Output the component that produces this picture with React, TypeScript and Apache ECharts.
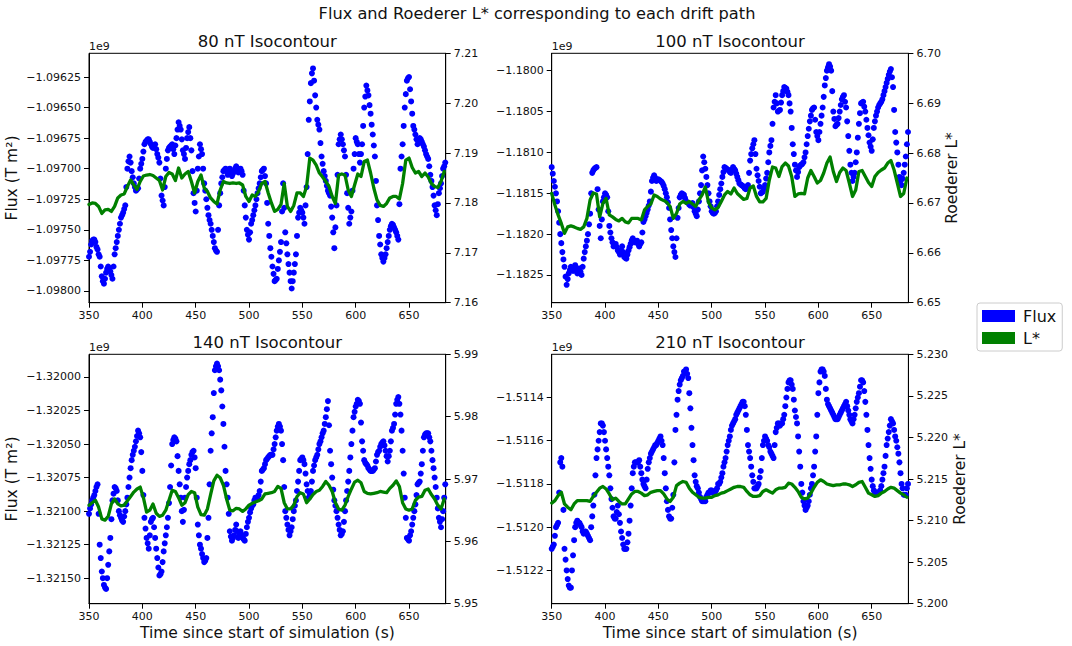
import React, { useEffect, useRef } from "react";
import * as echarts from "echarts";

// ---------------- data ----------------
// Flux sampled every 1 s from 350 s; L* every 3 s from 350 s. Flux values in units of 1e9 T m^2.
const FLUX_T0 = 350;
const FLUX_DT = 1;
const LSTAR_T0 = 350;
const LSTAR_DT = 3;

const xTicks = [350, 400, 450, 500, 550, 600, 650];
const X_MIN = 350;
const X_MAX = 684.4;

const panelTitles = ["80 nT Isocontour", "100 nT Isocontour", "140 nT Isocontour", "210 nT Isocontour"];

const flux80 = [
  -1.09772, -1.09768, -1.09762, -1.09759, -1.09758, -1.09758, -1.0976, -1.09764, -1.09766, -1.0977,
  -1.09772, -1.0978, -1.09788, -1.09792, -1.09794, -1.0979, -1.09785, -1.09782, -1.0978, -1.09782,
  -1.09784, -1.09787, -1.0979, -1.0978, -1.0977, -1.09765, -1.0976, -1.09755, -1.0975, -1.09745,
  -1.0974, -1.09738, -1.09736, -1.09733, -1.0973, -1.09715, -1.097, -1.09694, -1.0969, -1.09695,
  -1.09702, -1.09707, -1.09712, -1.09715, -1.09718, -1.09717, -1.09716, -1.09708, -1.097, -1.09696,
  -1.09692, -1.09686, -1.0968, -1.09678, -1.09677, -1.09676, -1.09676, -1.09678, -1.0968, -1.09682,
  -1.09683, -1.09681, -1.0968, -1.09684, -1.09688, -1.09691, -1.09695, -1.09708, -1.09722, -1.09726,
  -1.0973, -1.09715, -1.097, -1.09692, -1.09685, -1.09683, -1.09682, -1.09681, -1.0968, -1.09684,
  -1.09688, -1.09681, -1.09675, -1.09668, -1.09662, -1.09665, -1.09668, -1.09676, -1.09685, -1.09688,
  -1.09692, -1.09683, -1.09675, -1.0967, -1.09666, -1.09675, -1.09685, -1.09702, -1.0972, -1.09728,
  -1.09735, -1.09718, -1.097, -1.0969, -1.0968, -1.09684, -1.09688, -1.097, -1.09712, -1.09718,
  -1.09725, -1.09732, -1.09738, -1.09742, -1.09745, -1.0975, -1.09755, -1.0976, -1.09765, -1.09767,
  -1.09768, -1.0975, -1.0973, -1.0972, -1.09712, -1.09707, -1.09702, -1.09701, -1.097, -1.09702,
  -1.09705, -1.09702, -1.097, -1.09703, -1.09706, -1.09704, -1.09702, -1.097, -1.09698, -1.097,
  -1.09703, -1.09701, -1.097, -1.09702, -1.09705, -1.09718, -1.0973, -1.0974, -1.0975, -1.09754,
  -1.09758, -1.09752, -1.09745, -1.09742, -1.09738, -1.09734, -1.0973, -1.09725, -1.0972, -1.09716,
  -1.09712, -1.09707, -1.09702, -1.09701, -1.097, -1.09706, -1.09712, -1.09728, -1.09745, -1.09755,
  -1.09765, -1.09772, -1.0978, -1.09786, -1.09792, -1.09791, -1.0979, -1.09782, -1.09775, -1.09768,
  -1.0976, -1.09735, -1.09712, -1.09732, -1.09752, -1.09761, -1.0977, -1.09778, -1.09785, -1.09792,
  -1.09798, -1.09792, -1.09785, -1.09778, -1.0977, -1.09755, -1.0974, -1.09736, -1.09732, -1.09734,
  -1.09736, -1.0974, -1.09745, -1.0973, -1.09715, -1.09688, -1.0966, -1.09645, -1.0963, -1.09622,
  -1.09618, -1.09628, -1.0964, -1.0965, -1.0966, -1.09664, -1.09668, -1.09679, -1.0969, -1.09696,
  -1.09702, -1.09706, -1.0971, -1.09714, -1.09718, -1.0972, -1.09722, -1.09731, -1.0974, -1.09752,
  -1.09765, -1.09748, -1.0973, -1.09705, -1.0968, -1.09676, -1.09672, -1.09676, -1.0968, -1.09685,
  -1.0969, -1.09705, -1.0972, -1.09732, -1.09745, -1.0974, -1.09735, -1.09718, -1.097, -1.09688,
  -1.09675, -1.09678, -1.0968, -1.09688, -1.09695, -1.09688, -1.0968, -1.09665, -1.0965, -1.09641,
  -1.09632, -1.09636, -1.0964, -1.09648, -1.09655, -1.09664, -1.09672, -1.09681, -1.0969, -1.0971,
  -1.0973, -1.09742, -1.09755, -1.09762, -1.0977, -1.09773, -1.09776, -1.09773, -1.0977, -1.09765,
  -1.0976, -1.09755, -1.0975, -1.09747, -1.09745, -1.09746, -1.09748, -1.0975, -1.09752, -1.09755,
  -1.09758, -1.09729, -1.097, -1.0969, -1.0968, -1.09665, -1.0965, -1.09639, -1.09628, -1.09626,
  -1.09625, -1.09635, -1.09645, -1.09655, -1.09665, -1.09668, -1.09672, -1.09676, -1.0968, -1.09678,
  -1.09675, -1.09676, -1.09678, -1.0968, -1.09682, -1.09685, -1.09688, -1.0969, -1.09692, -1.09698,
  -1.09705, -1.0971, -1.09715, -1.09722, -1.0973, -1.09734, -1.09738, -1.09729, -1.0972, -1.09716,
  -1.09712, -1.09706, -1.097, -1.09698, -1.09695,
];
const lstar80 = [
  7.1797, 7.18, 7.1799, 7.1793, 7.1779, 7.1786, 7.1787, 7.1783, 7.1793, 7.181,
  7.1816, 7.1818, 7.1833, 7.1846, 7.1836, 7.1827, 7.1843, 7.1854, 7.1856, 7.1857,
  7.1855, 7.185, 7.1845, 7.1826, 7.1853, 7.1861, 7.1858, 7.1845, 7.187, 7.185,
  7.1858, 7.1863, 7.1843, 7.182, 7.1843, 7.1856, 7.183, 7.1823, 7.181, 7.1803,
  7.1798, 7.1826, 7.1843, 7.184, 7.1839, 7.184, 7.1839, 7.184, 7.1836, 7.1813,
  7.1803, 7.1816, 7.1813, 7.1823, 7.1839, 7.1843, 7.182, 7.18, 7.1783, 7.1787,
  7.1797, 7.1839, 7.1793, 7.1783, 7.1795, 7.182, 7.182, 7.1813, 7.1833, 7.189,
  7.1886, 7.1876, 7.186, 7.1852, 7.1843, 7.1833, 7.1813, 7.1799, 7.1856, 7.1858,
  7.1856, 7.1826, 7.1813, 7.1836, 7.1858, 7.1853, 7.1883, 7.1886, 7.186, 7.183,
  7.1806, 7.1795, 7.1793, 7.1799, 7.181, 7.1813, 7.1813, 7.1808, 7.1839, 7.1886,
  7.189, 7.1871, 7.186, 7.1863, 7.1853, 7.186, 7.1852, 7.1839, 7.1833, 7.1831,
  7.1843, 7.1863,
];

const flux100 = [
  -1.18118, -1.18126, -1.18135, -1.18142, -1.1815, -1.1816, -1.18172, -1.18186, -1.182, -1.18211,
  -1.18222, -1.18231, -1.1824, -1.18252, -1.18262, -1.18255, -1.18248, -1.18244, -1.1824, -1.18243,
  -1.18245, -1.18241, -1.18238, -1.18243, -1.18248, -1.18245, -1.18242, -1.18246, -1.1825, -1.1824,
  -1.1823, -1.18222, -1.18215, -1.18208, -1.182, -1.18188, -1.18175, -1.1815, -1.18125, -1.18122,
  -1.1812, -1.18119, -1.18118, -1.18145, -1.1817, -1.1819, -1.18205, -1.18182, -1.1816, -1.18155,
  -1.1815, -1.18152, -1.18155, -1.18172, -1.1819, -1.18198, -1.18205, -1.1821, -1.18215, -1.18213,
  -1.18212, -1.18216, -1.1822, -1.18222, -1.18225, -1.1822, -1.18215, -1.18222, -1.18228, -1.18229,
  -1.1823, -1.18225, -1.1822, -1.18216, -1.18212, -1.18208, -1.18205, -1.18208, -1.1821, -1.18209,
  -1.18208, -1.18212, -1.18215, -1.18212, -1.1821, -1.18198, -1.18185, -1.18182, -1.18178, -1.18174,
  -1.1817, -1.18165, -1.1816, -1.18148, -1.18135, -1.18131, -1.18128, -1.18131, -1.18135, -1.18134,
  -1.18133, -1.18134, -1.18135, -1.18136, -1.18138, -1.18141, -1.18145, -1.1815, -1.18155, -1.18161,
  -1.18168, -1.18182, -1.18195, -1.18205, -1.18215, -1.18222, -1.18228, -1.18205, -1.1818, -1.18168,
  -1.18155, -1.18152, -1.1815, -1.18151, -1.18152, -1.18156, -1.1816, -1.18161, -1.18162, -1.18164,
  -1.18165, -1.18163, -1.18162, -1.18167, -1.18172, -1.18175, -1.18178, -1.1817, -1.1816, -1.1815,
  -1.1814, -1.18122, -1.18105, -1.18112, -1.1812, -1.1813, -1.1814, -1.1815, -1.1816, -1.18166,
  -1.18172, -1.18174, -1.18175, -1.18174, -1.18172, -1.18166, -1.1816, -1.18152, -1.18145, -1.18138,
  -1.1813, -1.18124, -1.18118, -1.18119, -1.1812, -1.18121, -1.18122, -1.18124, -1.18125, -1.18122,
  -1.18118, -1.1812, -1.18122, -1.18126, -1.1813, -1.18134, -1.18138, -1.18139, -1.1814, -1.18141,
  -1.18142, -1.18144, -1.18145, -1.18142, -1.1814, -1.18125, -1.1811, -1.18102, -1.18095, -1.1809,
  -1.18085, -1.18102, -1.1812, -1.18128, -1.18135, -1.18142, -1.1815, -1.18149, -1.18148, -1.18144,
  -1.1814, -1.18132, -1.18125, -1.18112, -1.181, -1.18092, -1.18085, -1.18065, -1.18045, -1.18038,
  -1.1803, -1.1804, -1.1805, -1.18049, -1.18048, -1.18039, -1.1803, -1.18025, -1.1802, -1.18021,
  -1.18022, -1.18026, -1.1803, -1.1804, -1.1805, -1.1807, -1.1809, -1.18102, -1.18115, -1.18122,
  -1.1813, -1.18124, -1.18118, -1.18116, -1.18115, -1.18114, -1.18112, -1.18106, -1.181, -1.1809,
  -1.1808, -1.18071, -1.18062, -1.18055, -1.18048, -1.18046, -1.18045, -1.1806, -1.18075, -1.1808,
  -1.18085, -1.18075, -1.18065, -1.18055, -1.18045, -1.18032, -1.18018, -1.18009, -1.18, -1.17996,
  -1.17992, -1.17995, -1.18, -1.18025, -1.1805, -1.18059, -1.18068, -1.18066, -1.18065, -1.18058,
  -1.1805, -1.18042, -1.18035, -1.18032, -1.1803, -1.18038, -1.18045, -1.18062, -1.1808, -1.18098,
  -1.18115, -1.18125, -1.18135, -1.1813, -1.18125, -1.18112, -1.181, -1.18082, -1.18065, -1.18052,
  -1.1804, -1.18039, -1.18038, -1.18044, -1.1805, -1.1806, -1.1807, -1.18079, -1.18088, -1.18093,
  -1.18098, -1.18084, -1.1807, -1.18062, -1.18055, -1.1805, -1.18045, -1.18042, -1.1804, -1.18038,
  -1.18035, -1.1803, -1.18025, -1.1802, -1.18015, -1.1801, -1.18005, -1.18001, -1.17998, -1.18008,
  -1.1802, -1.18048, -1.18075, -1.18088, -1.181, -1.18115, -1.1813, -1.18135, -1.1814, -1.18132,
  -1.18125, -1.18115, -1.18105, -1.1809, -1.18075,
];
const lstar100 = [
  6.6719, 6.6696, 6.6676, 6.6659, 6.6639, 6.6652, 6.6654, 6.6652, 6.6649, 6.6647,
  6.6652, 6.6669, 6.6706, 6.672, 6.6718, 6.6672, 6.6699, 6.6709, 6.6676, 6.6672,
  6.6667, 6.6664, 6.6669, 6.6662, 6.666, 6.6669, 6.6669, 6.6669, 6.6666, 6.6686,
  6.6693, 6.6698, 6.6716, 6.6713, 6.6708, 6.6705, 6.6701, 6.6693, 6.6669, 6.6679,
  6.6698, 6.6703, 6.6699, 6.6703, 6.6698, 6.6693, 6.6706, 6.6716, 6.6732, 6.6701,
  6.669, 6.6686, 6.6691, 6.6703, 6.6716, 6.6723, 6.6718, 6.673, 6.6719, 6.6713,
  6.6707, 6.6709, 6.673, 6.6734, 6.6713, 6.6702, 6.6702, 6.6709, 6.6746, 6.6772,
  6.677, 6.6753, 6.6773, 6.678, 6.6774, 6.6753, 6.6713, 6.6718, 6.6719, 6.6718,
  6.675, 6.6765, 6.6753, 6.674, 6.6745, 6.676, 6.678, 6.6792, 6.6763, 6.6743,
  6.6761, 6.677, 6.6765, 6.674, 6.6713, 6.6726, 6.6763, 6.6765, 6.6753, 6.6741,
  6.6733, 6.6753, 6.6761, 6.6766, 6.677, 6.678, 6.6785, 6.6766, 6.674, 6.6713,
  6.6719, 6.675,
];

const flux140 = [
  -1.32102, -1.32098, -1.32095, -1.32092, -1.3209, -1.32088, -1.32085, -1.32082, -1.3208, -1.32102,
  -1.32125, -1.32135, -1.32145, -1.3215, -1.32155, -1.32157, -1.32158, -1.3215, -1.3214, -1.3213,
  -1.3212, -1.32106, -1.32092, -1.32087, -1.32082, -1.32083, -1.32085, -1.32092, -1.321, -1.32103,
  -1.32105, -1.32107, -1.32108, -1.32104, -1.321, -1.32095, -1.3209, -1.32082, -1.32075, -1.32068,
  -1.32062, -1.32058, -1.32055, -1.32052, -1.32048, -1.32044, -1.3204, -1.32042, -1.32045, -1.32056,
  -1.3207, -1.32088, -1.32105, -1.32113, -1.3212, -1.32124, -1.32128, -1.32118, -1.32108, -1.32106,
  -1.32105, -1.32112, -1.3212, -1.32128, -1.32135, -1.32142, -1.32148, -1.32147, -1.32145, -1.32138,
  -1.3213, -1.32124, -1.32118, -1.32112, -1.32105, -1.32094, -1.32082, -1.32066, -1.3205, -1.32047,
  -1.32045, -1.32046, -1.32048, -1.32059, -1.3207, -1.3208, -1.3209, -1.321, -1.32108, -1.32099,
  -1.3209, -1.32082, -1.32075, -1.3207, -1.32065, -1.32062, -1.32058, -1.32056, -1.32055, -1.3206,
  -1.32068, -1.3209, -1.3211, -1.32118, -1.32125, -1.32128, -1.32132, -1.32135, -1.32138, -1.32137,
  -1.32135, -1.3212, -1.32105, -1.3208, -1.32055, -1.32042, -1.3203, -1.32012, -1.31995, -1.31992,
  -1.3199, -1.31992, -1.31995, -1.32002, -1.3201, -1.32022, -1.32035, -1.32052, -1.3207, -1.3208,
  -1.3209, -1.32102, -1.32115, -1.32119, -1.32122, -1.3212, -1.32118, -1.32114, -1.3211, -1.32115,
  -1.3212, -1.32118, -1.32115, -1.32118, -1.3212, -1.32121, -1.32122, -1.32117, -1.32112, -1.32108,
  -1.32105, -1.32101, -1.32098, -1.32096, -1.32095, -1.32092, -1.3209, -1.3209, -1.3209, -1.32088,
  -1.32085, -1.32078, -1.3207, -1.32069, -1.32068, -1.32065, -1.32062, -1.32061, -1.3206, -1.32059,
  -1.32058, -1.32058, -1.32058, -1.32054, -1.3205, -1.32045, -1.3204, -1.32037, -1.32035, -1.32037,
  -1.3204, -1.3205, -1.32062, -1.32082, -1.321, -1.32105, -1.3211, -1.32114, -1.32118, -1.32115,
  -1.32112, -1.32106, -1.321, -1.32096, -1.32092, -1.32085, -1.32078, -1.3207, -1.32062, -1.32061,
  -1.3206, -1.32062, -1.32065, -1.32072, -1.3208, -1.32085, -1.3209, -1.32088, -1.32085, -1.32078,
  -1.3207, -1.32066, -1.32062, -1.3206, -1.32058, -1.32054, -1.3205, -1.32048, -1.32045, -1.32042,
  -1.3204, -1.32035, -1.3203, -1.32024, -1.32018, -1.32036, -1.32055, -1.32065, -1.32075, -1.32084,
  -1.32092, -1.32096, -1.321, -1.32105, -1.3211, -1.32114, -1.32118, -1.32117, -1.32115, -1.32108,
  -1.321, -1.32092, -1.32085, -1.32078, -1.3207, -1.3206, -1.3205, -1.3204, -1.3203, -1.32026,
  -1.32022, -1.3202, -1.32017, -1.32018, -1.3202, -1.32034, -1.32048, -1.32055, -1.32062, -1.32064,
  -1.32065, -1.32066, -1.32068, -1.32069, -1.3207, -1.3207, -1.3207, -1.32069, -1.32068, -1.32063,
  -1.32058, -1.32056, -1.32055, -1.32052, -1.3205, -1.32049, -1.32048, -1.32051, -1.32055, -1.32059,
  -1.32063, -1.32059, -1.32055, -1.32048, -1.3204, -1.32038, -1.32035, -1.32028, -1.3202, -1.32017,
  -1.32015, -1.3202, -1.32028, -1.3204, -1.32055, -1.32072, -1.3209, -1.32105, -1.3212, -1.32121,
  -1.32122, -1.32118, -1.32115, -1.3211, -1.32105, -1.321, -1.32095, -1.32088, -1.3208, -1.32079,
  -1.32078, -1.32072, -1.32065, -1.32055, -1.32045, -1.32043, -1.32042, -1.32042, -1.32042, -1.32045,
  -1.32048, -1.32055, -1.32062, -1.32068, -1.32075, -1.32082, -1.3209, -1.32098, -1.32105, -1.32108,
  -1.32112, -1.32106, -1.321, -1.3209, -1.3208,
];
const lstar140 = [
  5.9658, 5.9662, 5.9666, 5.9655, 5.9636, 5.9634, 5.964, 5.966, 5.9668, 5.966,
  5.9657, 5.9658, 5.9665, 5.9672, 5.9679, 5.9684, 5.9687, 5.967, 5.9647, 5.965,
  5.966, 5.9645, 5.964, 5.9642, 5.965, 5.9666, 5.9682, 5.968, 5.967, 5.9658,
  5.9662, 5.9675, 5.968, 5.9678, 5.9655, 5.9643, 5.9642, 5.9652, 5.9675, 5.9697,
  5.9706, 5.9702, 5.969, 5.9668, 5.965, 5.9649, 5.9653, 5.9652, 5.9648, 5.9652,
  5.9658, 5.9661, 5.9663, 5.9665, 5.9668, 5.9676, 5.9677, 5.9678, 5.968, 5.9688,
  5.9685, 5.9662, 5.9652, 5.9652, 5.9658, 5.9672, 5.9678, 5.9676, 5.9662, 5.9668,
  5.9675, 5.968, 5.9682, 5.9688, 5.9696, 5.969, 5.968, 5.9662, 5.9652, 5.965,
  5.9658, 5.9672, 5.9684, 5.9695, 5.9698, 5.9694, 5.968, 5.9677, 5.9676, 5.9677,
  5.9678, 5.968, 5.9679, 5.9678, 5.9685, 5.969, 5.9697, 5.9688, 5.9662, 5.9652,
  5.965, 5.9652, 5.9666, 5.9671, 5.9672, 5.9682, 5.9684, 5.9675, 5.9668, 5.9658,
  5.9652, 5.9668,
];

const flux210 = [
  -1.5121, -1.51209, -1.51208, -1.51204, -1.512, -1.51199, -1.51198, -1.51184, -1.5117, -1.51168,
  -1.51172, -1.51192, -1.5121, -1.51215, -1.5122, -1.51224, -1.51227, -1.51228, -1.51228, -1.5122,
  -1.51213, -1.51206, -1.512, -1.51198, -1.51197, -1.51198, -1.51198, -1.51199, -1.512, -1.51202,
  -1.51203, -1.51202, -1.51202, -1.51203, -1.51204, -1.51205, -1.51206, -1.512, -1.51195, -1.5119,
  -1.51185, -1.51176, -1.51168, -1.51164, -1.5116, -1.51156, -1.51152, -1.51152, -1.51153, -1.51156,
  -1.5116, -1.51164, -1.51168, -1.51172, -1.51176, -1.51182, -1.51187, -1.51191, -1.51195, -1.51196,
  -1.51196, -1.51193, -1.5119, -1.51194, -1.51198, -1.51202, -1.51205, -1.51208, -1.5121, -1.5121,
  -1.5121, -1.51207, -1.51203, -1.51197, -1.5119, -1.51182, -1.51175, -1.51172, -1.5117, -1.5117,
  -1.5117, -1.5117, -1.51169, -1.51172, -1.51175, -1.51178, -1.5118, -1.51181, -1.51182, -1.51178,
  -1.51173, -1.5117, -1.51168, -1.51166, -1.51165, -1.51164, -1.51163, -1.51162, -1.51162, -1.51161,
  -1.5116, -1.51159, -1.51158, -1.5116, -1.51162, -1.51168, -1.51175, -1.51182, -1.51188, -1.51192,
  -1.51195, -1.51196, -1.51196, -1.51191, -1.51185, -1.5117, -1.51155, -1.51148, -1.51141, -1.51137,
  -1.51134, -1.51132, -1.51131, -1.5113, -1.51128, -1.51128, -1.51127, -1.51129, -1.51131, -1.51138,
  -1.51145, -1.51154, -1.51162, -1.51169, -1.51176, -1.51179, -1.51181, -1.51182, -1.51184, -1.51186,
  -1.51187, -1.51188, -1.51188, -1.51188, -1.51188, -1.51186, -1.51185, -1.51184, -1.51184, -1.51183,
  -1.51183, -1.51184, -1.51184, -1.51184, -1.51183, -1.51182, -1.5118, -1.5118, -1.51179, -1.51177,
  -1.51175, -1.51172, -1.5117, -1.51168, -1.51165, -1.51162, -1.5116, -1.51158, -1.51155, -1.51153,
  -1.51152, -1.51151, -1.5115, -1.51148, -1.51147, -1.51146, -1.51145, -1.51144, -1.51143, -1.51142,
  -1.51142, -1.51144, -1.51148, -1.51155, -1.51162, -1.51165, -1.51168, -1.51172, -1.51176, -1.51179,
  -1.51182, -1.51182, -1.51182, -1.51181, -1.5118, -1.51177, -1.51174, -1.51168, -1.51162, -1.5116,
  -1.51158, -1.51159, -1.5116, -1.51162, -1.51163, -1.51165, -1.51166, -1.51167, -1.51168, -1.51162,
  -1.51156, -1.51154, -1.51152, -1.51152, -1.51153, -1.51152, -1.51152, -1.5115, -1.51148, -1.51144,
  -1.5114, -1.51136, -1.51133, -1.51132, -1.51132, -1.51134, -1.51136, -1.51141, -1.51146, -1.51149,
  -1.51152, -1.51158, -1.51165, -1.51172, -1.5118, -1.51184, -1.51188, -1.5119, -1.51192, -1.51191,
  -1.5119, -1.51188, -1.51185, -1.51182, -1.5118, -1.51176, -1.51172, -1.51165, -1.51158, -1.51148,
  -1.51138, -1.51133, -1.51128, -1.51127, -1.51127, -1.51128, -1.5113, -1.51136, -1.51141, -1.51143,
  -1.51144, -1.51145, -1.51146, -1.51147, -1.51148, -1.51149, -1.5115, -1.5115, -1.5115, -1.51149,
  -1.51148, -1.51147, -1.51146, -1.51145, -1.51144, -1.51143, -1.51142, -1.51144, -1.51146, -1.51148,
  -1.5115, -1.51151, -1.51152, -1.5115, -1.51148, -1.51145, -1.51142, -1.5114, -1.51138, -1.51135,
  -1.51132, -1.51132, -1.51133, -1.51137, -1.51142, -1.51148, -1.51155, -1.51162, -1.51168, -1.51173,
  -1.51178, -1.51181, -1.51183, -1.51184, -1.51184, -1.51184, -1.51184, -1.51184, -1.51183, -1.51181,
  -1.51178, -1.51175, -1.51172, -1.51167, -1.51162, -1.51159, -1.51156, -1.51153, -1.5115, -1.51151,
  -1.51152, -1.51155, -1.51158, -1.5116, -1.51163, -1.51166, -1.5117, -1.51175, -1.5118, -1.51182,
  -1.51185, -1.51185, -1.51185, -1.51182, -1.5118,
];
const lstar210 = [
  5.2121, 5.2124, 5.213, 5.2134, 5.212, 5.2116, 5.2113, 5.212, 5.2124, 5.2124,
  5.2124, 5.2124, 5.2123, 5.2129, 5.2134, 5.2139, 5.2141, 5.2138, 5.2132, 5.2125,
  5.2127, 5.2123, 5.212, 5.212, 5.2126, 5.2132, 5.2135, 5.2135, 5.2133, 5.213,
  5.2131, 5.2134, 5.2135, 5.2136, 5.2136, 5.2132, 5.2126, 5.2123, 5.2128, 5.2142,
  5.2145, 5.2147, 5.2146, 5.2139, 5.2134, 5.2131, 5.2128, 5.2127, 5.2127, 5.2128,
  5.2128, 5.213, 5.2131, 5.2133, 5.2134, 5.2136, 5.2138, 5.214, 5.2141, 5.2141,
  5.214, 5.2135, 5.2131, 5.2129, 5.2129, 5.213, 5.2135, 5.2137, 5.2135, 5.2133,
  5.2137, 5.2139, 5.2139, 5.214, 5.2145, 5.2144, 5.214, 5.2135, 5.2128, 5.2126,
  5.2127, 5.2133, 5.214, 5.2146, 5.2149, 5.2147, 5.2144, 5.2143, 5.2142, 5.2143,
  5.2143, 5.2144, 5.2144, 5.2143, 5.2141, 5.2143, 5.2146, 5.2147, 5.214, 5.2133,
  5.2131, 5.2129, 5.213, 5.2133, 5.2135, 5.2138, 5.214, 5.2139, 5.2136, 5.2133,
  5.2131, 5.2128,
];

const fluxTicks80 = [-1.098, -1.09775, -1.0975, -1.09725, -1.097, -1.09675, -1.0965, -1.09625];
const fluxTicks100 = [-1.1825, -1.182, -1.1815, -1.181, -1.1805, -1.18];
const fluxTicks140 = [-1.3215, -1.32125, -1.321, -1.32075, -1.3205, -1.32025, -1.32];
const fluxTicks210 = [-1.5122, -1.512, -1.5118, -1.5116, -1.5114];
const lstarTicks80 = [7.16, 7.17, 7.18, 7.19, 7.2, 7.21];
const lstarTicks100 = [6.65, 6.66, 6.67, 6.68, 6.69, 6.7];
const lstarTicks140 = [5.95, 5.96, 5.97, 5.98, 5.99];
const lstarTicks210 = [5.2, 5.205, 5.21, 5.215, 5.22, 5.225, 5.23];

const fluxRange80 = [-1.098096, -1.096056];
const fluxRange100 = [-1.182839, -1.179787];
const fluxRange140 = [-1.32169, -1.319831];
const fluxRange210 = [-1.512354, -1.5112];
const lstarRange80 = [7.16, 7.21];
const lstarRange100 = [6.65, 6.7];
const lstarRange140 = [5.95, 5.99];
const lstarRange210 = [5.2, 5.23];

// ---------------- layout / style ----------------
const FONT = "'DejaVu Sans', 'Liberation Sans', sans-serif";
const TEXT = "#111";
const BLUE = "#0000ff";
const GREEN = "#008000";
const GRID_W = 356.7;
const GRID_H = 249.4;

const panels = [
  { flux: flux80, lstar: lstar80, fr: fluxRange80, lr: lstarRange80, ft: fluxTicks80, lt: lstarTicks80, fd: 5, ld: 2, left: 89, top: 53.3, fluxName: true, lName: false, xName: false },
  { flux: flux100, lstar: lstar100, fr: fluxRange100, lr: lstarRange100, ft: fluxTicks100, lt: lstarTicks100, fd: 4, ld: 2, left: 551.7, top: 53.3, fluxName: false, lName: true, xName: false },
  { flux: flux140, lstar: lstar140, fr: fluxRange140, lr: lstarRange140, ft: fluxTicks140, lt: lstarTicks140, fd: 5, ld: 2, left: 89, top: 354.3, fluxName: true, lName: false, xName: true },
  { flux: flux210, lstar: lstar210, fr: fluxRange210, lr: lstarRange210, ft: fluxTicks210, lt: lstarTicks210, fd: 4, ld: 3, left: 551.7, top: 354.3, fluxName: false, lName: true, xName: true },
];

const fmt = (v: number, d: number) => (v < 0 ? "\u2212" : "") + Math.abs(v).toFixed(d);

function buildOption() {
  const grid: any[] = [];
  const xAxis: any[] = [];
  const yAxis: any[] = [];
  const series: any[] = [];
  const graphic: any[] = [];

  const tickStyle = { show: true, inside: false, length: 5, lineStyle: { color: "#000", width: 1 } };
  const labelBase = { color: TEXT, fontFamily: FONT, fontSize: 11 };

  panels.forEach((p, i) => {
    grid.push({
      left: p.left, top: p.top, width: GRID_W, height: GRID_H,
      show: true, borderColor: "#000", borderWidth: 1, backgroundColor: "transparent",
      containLabel: false, outerBoundsMode: "none",
    });
    xAxis.push({
      type: "value", gridIndex: i, min: X_MIN, max: X_MAX,
      axisLine: { show: true, lineStyle: { color: "#000", width: 1 } },
      axisTick: { ...tickStyle, customValues: xTicks },
      axisLabel: { ...labelBase, margin: 7, customValues: xTicks, formatter: (v: number) => String(Math.round(v)) },
      splitLine: { show: false },
    });
    yAxis.push({
      type: "value", gridIndex: i, position: "left", min: p.fr[0], max: p.fr[1],
      axisLine: { show: true, lineStyle: { color: "#000", width: 1 } },
      axisTick: { ...tickStyle, customValues: p.ft },
      axisLabel: { ...labelBase, margin: 8, customValues: p.ft, formatter: (v: number) => fmt(v, p.fd) },
      splitLine: { show: false },
    });
    yAxis.push({
      type: "value", gridIndex: i, position: "right", min: p.lr[0], max: p.lr[1],
      axisLine: { show: true, lineStyle: { color: "#000", width: 1 } },
      axisTick: { ...tickStyle, customValues: p.lt },
      axisLabel: { ...labelBase, margin: 8, customValues: p.lt, formatter: (v: number) => fmt(v, p.ld) },
      splitLine: { show: false },
    });
    series.push({
      name: "Flux", type: "scatter", xAxisIndex: i, yAxisIndex: 2 * i,
      data: p.flux.map((v, k) => [FLUX_T0 + FLUX_DT * k, v]),
      symbol: "circle", symbolSize: 6, color: BLUE,
      itemStyle: { color: BLUE, opacity: 1 }, z: 2, clip: true,
      emphasis: { disabled: true },
    });
    series.push({
      name: "L*", type: "line", xAxisIndex: i, yAxisIndex: 2 * i + 1,
      data: p.lstar.map((v, k) => [LSTAR_T0 + LSTAR_DT * k, v]),
      showSymbol: false, symbol: "none", color: GREEN,
      lineStyle: { color: GREEN, width: 3.3, join: "round", cap: "round" },
      itemStyle: { color: GREEN }, z: 3, clip: true,
      emphasis: { disabled: true },
    });

    const cx = p.left + GRID_W / 2;
    graphic.push({
      type: "text", x: cx, y: p.top - 11.6,
      style: { text: panelTitles[i], fill: TEXT, font: `16.5px ${FONT}`, textAlign: "center", textVerticalAlign: "middle" },
    });
    graphic.push({
      type: "text", x: p.left, y: p.top - 7,
      style: { text: "1e9", fill: TEXT, font: `11px ${FONT}`, textAlign: "left", textVerticalAlign: "middle" },
    });
    const cy = p.top + GRID_H / 2;
    if (p.fluxName) {
      graphic.push({
        type: "text", x: 12, y: cy, rotation: Math.PI / 2,
        style: { text: "Flux (T m\u00B2)", fill: TEXT, font: `15.5px ${FONT}`, textAlign: "center", textVerticalAlign: "middle" },
      });
    }
    if (p.lName) {
      graphic.push({
        type: "text", x: i === 1 ? 952 : 960, y: cy, rotation: Math.PI / 2,
        style: { text: "Roederer L*", fill: TEXT, font: `15.5px ${FONT}`, textAlign: "center", textVerticalAlign: "middle" },
      });
    }
    if (p.xName) {
      graphic.push({
        type: "text", x: cx, y: 633,
        style: { text: "Time since start of simulation (s)", fill: TEXT, font: `15.5px ${FONT}`, textAlign: "center", textVerticalAlign: "middle" },
      });
    }
  });

  graphic.push({
    type: "text", x: 537, y: 13,
    style: { text: "Flux and Roederer L* corresponding to each drift path", fill: TEXT, font: `16.2px ${FONT}`, textAlign: "center", textVerticalAlign: "middle" },
  });

  return {
    animation: false,
    backgroundColor: "#ffffff",
    tooltip: { show: false },
    legend: {
      orient: "vertical", left: 977, top: 303,
      data: [{ name: "Flux", icon: "rect" }, { name: "L*", icon: "rect" }],
      itemWidth: 33, itemHeight: 12, itemGap: 6,
      padding: [5, 6, 5, 5],
      borderColor: "#cccccc", borderWidth: 1, borderRadius: 3, backgroundColor: "#fff",
      textStyle: { color: TEXT, fontFamily: FONT, fontSize: 16, padding: [0, 0, 0, 3] },
      selectedMode: false,
    },
    grid, xAxis, yAxis, series, graphic,
  };
}

export default function App() {
  const ref = useRef<HTMLDivElement | null>(null);
  useEffect(() => {
    if (!ref.current) return;
    const chart = echarts.init(ref.current, undefined, { renderer: "svg" });
    chart.setOption(buildOption() as any);
    return () => chart.dispose();
  }, []);
  return (
    <div
      ref={ref}
      style={{ position: "absolute", left: 0, top: 0, width: 1072, height: 646, background: "#fff" }}
    />
  );
}
